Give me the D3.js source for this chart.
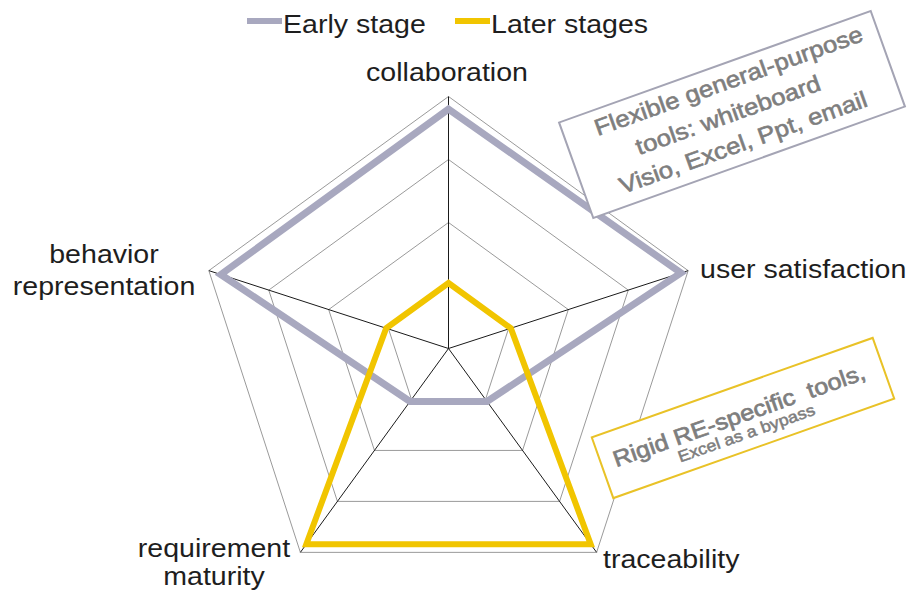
<!DOCTYPE html>
<html>
<head>
<meta charset="utf-8">
<script src="https://cdn.jsdelivr.net/npm/d3@7"></script>
<style>
  body { margin: 0; background: #fff; }
  text { font-family: "Liberation Sans", Arial, sans-serif; }
</style>
</head>
<body>
<div id="chart"></div>
<script>
// axes go clockwise starting at the top
var axes = ["collaboration", "user satisfaction", "traceability", "requirement maturity", "behavior representation"];
var seriesNames = ["Early stage", "Later stages"];
var earlyStage = [0.95, 0.97, 0.26, 0.26, 0.95];
var laterStages = [0.26, 0.26, 0.96, 0.96, 0.26];
var gridLevels = [0.25, 0.5, 0.75, 1];

var width = 910, height = 598;
var cx = 448.5, cy = 348.5, radius = 252;
var colors = ["#a8a8bf", "#f1c500"];
var stretch = 1.12; // the picture's text is a bit wide

var svg = d3.select("#chart").append("svg")
    .attr("width", width)
    .attr("height", height);

var r = d3.scaleLinear().domain([0, 1]).range([0, radius]);
var angle = d3.scalePoint().domain(d3.range(axes.length + 1)).range([0, 2 * Math.PI]);

var g = svg.append("g").attr("transform", "translate(" + cx + "," + cy + ")");

var radial = d3.lineRadial()
    .angle(function(d, i) { return angle(i); })
    .radius(function(d) { return r(d); })
    .curve(d3.curveLinearClosed);

//grid pentagons
g.selectAll(".grid")
    .data(gridLevels)
    .enter()
    .append("path")
    .attr("class", "grid")
    .attr("d", function(l) { return radial(axes.map(function() { return l; })); })
    .style("fill", "none")
    .style("stroke", "#9a9a9a")
    .style("stroke-width", 1);

//spokes
g.selectAll(".spoke")
    .data(axes)
    .enter()
    .append("line")
    .attr("class", "spoke")
    .attr("x1", 0).attr("y1", 0)
    .attr("x2", function(d, i) { return r(1) * Math.sin(angle(i)); })
    .attr("y2", function(d, i) { return -r(1) * Math.cos(angle(i)); })
    .style("stroke", "#1a1a1a")
    .style("stroke-width", 1);

//series
var series = [earlyStage, laterStages];
g.selectAll(".series")
    .data(series)
    .enter()
    .append("path")
    .attr("class", "series")
    .attr("d", radial)
    .style("fill", "none")
    .style("stroke", function(d, i) { return colors[i]; })
    .style("stroke-width", function(d, i) { return i == 0 ? 7 : 6; })
    .style("stroke-linejoin", "miter");

//helper for wide text
function addText(parent, x, y, str, size, anchor, fill) {
    return parent.append("text")
        .attr("transform", "translate(" + x + "," + y + ") scale(" + stretch + ",1)")
        .attr("text-anchor", anchor)
        .style("font-size", size + "px")
        .style("fill", fill)
        .text(str);
}

//axis labels
var labelSize = 25.5;
var labelColor = "#1e1e1e";
addText(svg, 447, 81, "collaboration", labelSize, "middle", labelColor);
addText(svg, 700, 278, "user satisfaction", labelSize, "start", labelColor);
addText(svg, 603, 568, "traceability", labelSize, "start", labelColor);
addText(svg, 214, 557, "requirement", labelSize, "middle", labelColor);
addText(svg, 214, 585, "maturity", labelSize, "middle", labelColor);
addText(svg, 104, 263, "behavior", labelSize, "middle", labelColor);
addText(svg, 104, 295, "representation", labelSize, "middle", labelColor);

//legend
var legendX = [247, 455];
var legend = svg.selectAll(".legend")
    .data(seriesNames)
    .enter()
    .append("g")
    .attr("class", "legend")
    .attr("transform", function(d, i) { return "translate(" + legendX[i] + ",21)"; });

legend.append("line")
    .attr("x1", 0).attr("x2", 35)
    .attr("y1", 0).attr("y2", 0)
    .style("stroke", function(d, i) { return colors[i]; })
    .style("stroke-width", 6);

legend.each(function(d) {
    addText(d3.select(this), 36, 12, d, labelSize, "start", labelColor);
});

//annotation boxes
var noteColor = "#7e7e7e";

var note1 = svg.append("g").attr("transform", "translate(732,114.5) rotate(-19.7)");
note1.append("rect")
    .attr("x", -165.5).attr("y", -50.75)
    .attr("width", 331).attr("height", 101.5)
    .style("fill", "#fff")
    .style("stroke", "#a4a4b4")
    .style("stroke-width", 2);
[["Flexible general-purpose", 8, -25], ["tools: whiteboard", -4, 7], ["Visio, Excel, Ppt, email", 1, 38]]
    .forEach(function(l) {
        addText(note1, l[1], l[2], l[0], 23, "middle", noteColor)
            .style("stroke", noteColor).style("stroke-width", 0.6);
    });

var note2 = svg.append("g").attr("transform", "translate(743,418) rotate(-19.5)");
note2.append("rect")
    .attr("x", -149).attr("y", -32.25)
    .attr("width", 298).attr("height", 64.5)
    .style("fill", "#fff")
    .style("stroke", "#e9c227")
    .style("stroke-width", 2);
addText(note2, -3, 4, "Rigid RE-specific  tools,", 22.5, "middle", noteColor)
    .style("white-space", "pre").style("stroke", noteColor).style("stroke-width", 0.7);
addText(note2, -2, 21, "Excel as a bypass", 16, "middle", noteColor)
    .style("stroke", noteColor).style("stroke-width", 0.5);
</script>
</body>
</html>
